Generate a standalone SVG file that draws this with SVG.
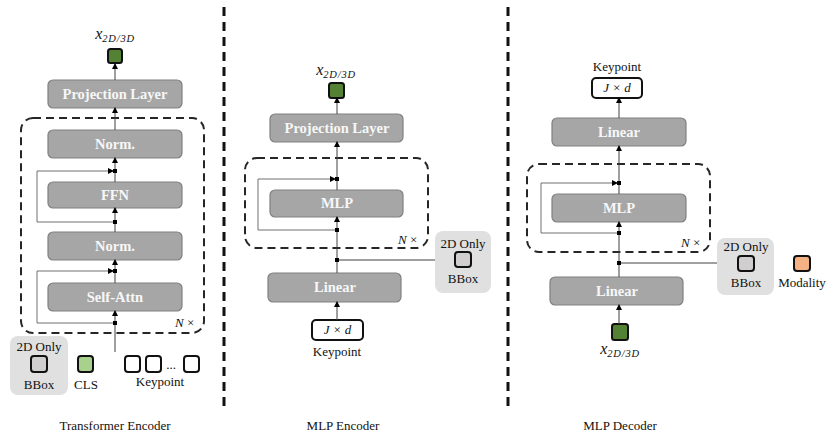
<svg xmlns="http://www.w3.org/2000/svg" width="831" height="440" viewBox="0 0 831 440">
<defs>
<marker id="ah" markerUnits="userSpaceOnUse" markerWidth="6" markerHeight="6" refX="5" refY="3" orient="auto">
<path d="M0,0 L6,3 L0,6 Z" fill="#000"/>
</marker>
<style>
.blk{fill:#a6a6a6;stroke:#808080;stroke-width:1.2}
.bt{font-family:"Liberation Serif",serif;font-weight:bold;font-size:14.5px;fill:#f7f7f7;text-anchor:middle}
.lb{font-family:"Liberation Serif",serif;font-size:13px;fill:#111;text-anchor:middle}
.cap{font-family:"Liberation Serif",serif;font-size:13px;fill:#111;text-anchor:middle}
.mx{font-family:"Liberation Serif",serif;font-style:italic;font-size:16px;fill:#111;text-anchor:middle}
.dash{fill:none;stroke:#262626;stroke-width:2;stroke-dasharray:8 5}
.div{stroke:#111;stroke-width:3;stroke-dasharray:9 6}
.ln{fill:none;stroke:#404040;stroke-width:1}
.sk{fill:none;stroke:#707070;stroke-width:1}
.jn{fill:#000}
.tok{stroke:#111;stroke-width:2}
.gbox{fill:#e0e0e0}
.nx{font-family:"Liberation Serif",serif;font-size:13px;fill:#111}
</style>
</defs>

<!-- dividers -->
<g id="dividers">
<line class="div" x1="224" y1="7" x2="224" y2="408"/>
<line class="div" x1="508" y1="7" x2="508" y2="408"/>
</g>

<!-- ================= Transformer Encoder ================= -->
<g id="te-out">
<text class="mx" x="115" y="39">x<tspan font-size="10.5" dy="3" letter-spacing="0.8">2D/3D</tspan></text>
<rect class="tok" x="108" y="49" width="14" height="14" rx="2.5" fill="#548235"/>
</g>
<g id="te-dashed"><rect class="dash" x="21" y="118" width="183" height="215" rx="12"/>
<text class="nx" x="175" y="327"><tspan font-style="italic">N</tspan> ×</text></g>
<g id="te-proj"><rect class="blk" x="48" y="80" width="134" height="28" rx="5"/><text class="bt" x="115" y="99">Projection Layer</text></g>
<g id="te-norm1"><rect class="blk" x="48" y="130" width="134" height="28" rx="5"/><text class="bt" x="115" y="149">Norm.</text></g>
<g id="te-ffn"><rect class="blk" x="48" y="182" width="134" height="26" rx="5"/><text class="bt" x="115" y="200">FFN</text></g>
<g id="te-norm2"><rect class="blk" x="48" y="232" width="134" height="28" rx="5"/><text class="bt" x="115" y="251">Norm.</text></g>
<g id="te-attn"><rect class="blk" x="48" y="283" width="134" height="28" rx="5"/><text class="bt" x="115" y="302">Self-Attn</text></g>
<g id="te-inputs">
<rect class="gbox" x="10" y="336" width="58" height="59" rx="8"/>
<text class="lb" x="39" y="351">2D Only</text>
<rect class="tok" x="31" y="356" width="16" height="16" rx="3" fill="#d0cece"/>
<text class="lb" x="39" y="389">BBox</text>
<rect class="tok" x="78" y="356" width="15" height="16" rx="3" fill="#a9d18e"/>
<text class="lb" x="86" y="389">CLS</text>
<rect class="tok" x="125" y="356" width="15" height="16" rx="3" fill="#fff"/>
<rect class="tok" x="146" y="356" width="15" height="16" rx="3" fill="#fff"/>
<text class="lb" x="171" y="369" font-size="9">...</text>
<rect class="tok" x="184" y="356" width="15" height="16" rx="3" fill="#fff"/>
<text class="lb" x="160" y="386">Keypoint</text>
</g>

<!-- ================= MLP Encoder ================= -->
<g id="me-out">
<text class="mx" x="336" y="75">x<tspan font-size="10.5" dy="3" letter-spacing="0.8">2D/3D</tspan></text>
<rect class="tok" x="329" y="83" width="15" height="15" rx="2.5" fill="#548235"/>
</g>
<g id="me-proj"><rect class="blk" x="270" y="114" width="133" height="28" rx="5"/><text class="bt" x="337" y="133">Projection Layer</text></g>
<g id="me-dashed"><rect class="dash" x="245" y="158" width="183" height="90" rx="12"/>
<text class="nx" x="398" y="244"><tspan font-style="italic">N</tspan> ×</text></g>
<g id="me-mlp"><rect class="blk" x="270" y="190" width="133" height="27" rx="5"/><text class="bt" x="337" y="208">MLP</text></g>
<g id="me-linear"><rect class="blk" x="268" y="273" width="133" height="29" rx="5"/><text class="bt" x="335" y="292">Linear</text></g>
<g id="me-bbox">
<rect class="gbox" x="435" y="231" width="56" height="62" rx="8"/>
<text class="lb" x="463" y="248">2D Only</text>
<rect class="tok" x="455" y="252" width="16" height="15" rx="3" fill="#d0cece"/>
<text class="lb" x="463" y="283">BBox</text>
</g>
<g id="me-kp">
<rect class="tok" x="312" y="320" width="51" height="20" rx="4" fill="#fff"/>
<text class="lb" x="337.5" y="334" font-size="10" font-style="italic">J × d</text>
<text class="lb" x="337" y="356">Keypoint</text>
</g>

<!-- ================= MLP Decoder ================= -->
<g id="md-kp">
<text class="lb" x="617" y="71">Keypoint</text>
<rect class="tok" x="592" y="78" width="50" height="20" rx="4" fill="#fff"/>
<text class="lb" x="617" y="92" font-size="10" font-style="italic">J × d</text>
</g>
<g id="md-linear1"><rect class="blk" x="552" y="118" width="134" height="28" rx="5"/><text class="bt" x="619" y="137">Linear</text></g>
<g id="md-dashed"><rect class="dash" x="527" y="164" width="183" height="88" rx="12"/>
<text class="nx" x="681" y="247"><tspan font-style="italic">N</tspan> ×</text></g>
<g id="md-mlp"><rect class="blk" x="552" y="194" width="134" height="28" rx="5"/><text class="bt" x="619" y="213">MLP</text></g>
<g id="md-linear2"><rect class="blk" x="550" y="277" width="133" height="28" rx="5"/><text class="bt" x="617" y="296">Linear</text></g>
<g id="md-bbox">
<rect class="gbox" x="717" y="238" width="57" height="57" rx="8"/>
<text class="lb" x="746" y="251">2D Only</text>
<rect class="tok" x="738" y="256" width="16" height="15" rx="3" fill="#d0cece"/>
<text class="lb" x="746" y="287">BBox</text>
</g>
<g id="md-modality">
<rect class="tok" x="794" y="256" width="16" height="15" rx="3" fill="#f4b183"/>
<text class="lb" x="802" y="287">Modality</text>
</g>
<g id="md-in">
<rect class="tok" x="612" y="324" width="16" height="16" rx="2.5" fill="#548235"/>
<text class="mx" x="620" y="354">x<tspan font-size="10.5" dy="3" letter-spacing="0.8">2D/3D</tspan></text>
</g>

<!-- captions -->
<g id="captions">
<text class="cap" x="115" y="430">Transformer Encoder</text>
<text class="cap" x="343" y="430">MLP Encoder</text>
<text class="cap" x="620" y="430">MLP Decoder</text>
</g>

<!-- connectors -->
<g id="connectors">
<!-- TE -->
<line class="ln" x1="115" y1="80" x2="115" y2="64" marker-end="url(#ah)"/>
<line class="ln" x1="115" y1="130" x2="115" y2="108" marker-end="url(#ah)"/>
<line class="ln" x1="115" y1="182" x2="115" y2="158" marker-end="url(#ah)"/>
<line class="ln" x1="115" y1="232" x2="115" y2="208" marker-end="url(#ah)"/>
<line class="ln" x1="115" y1="283" x2="115" y2="260" marker-end="url(#ah)"/>
<line class="ln" x1="115" y1="352" x2="115" y2="311" marker-end="url(#ah)"/>
<path class="sk" d="M115,222 H37 V171 H113" marker-end="url(#ah)"/>
<path class="sk" d="M115,323 H37 V271 H113" marker-end="url(#ah)"/>
<rect class="jn" x="113" y="169" width="4" height="4"/>
<rect class="jn" x="113" y="220" width="4" height="4"/>
<rect class="jn" x="113" y="269" width="4" height="4"/>
<rect class="jn" x="113" y="321" width="4" height="4"/>
<!-- ME -->
<line class="ln" x1="337" y1="114" x2="337" y2="98" marker-end="url(#ah)"/>
<line class="ln" x1="337" y1="190" x2="337" y2="142" marker-end="url(#ah)"/>
<line class="ln" x1="337" y1="273" x2="337" y2="217" marker-end="url(#ah)"/>
<path class="sk" d="M337,230 H258 V179 H335" marker-end="url(#ah)"/>
<line class="ln" x1="337" y1="260" x2="435" y2="260"/>
<line class="ln" x1="337" y1="320" x2="337" y2="302" marker-end="url(#ah)"/>
<rect class="jn" x="335" y="177" width="4" height="4"/>
<rect class="jn" x="335" y="228" width="4" height="4"/>
<rect class="jn" x="335" y="258" width="4" height="4"/>
<!-- MD -->
<line class="ln" x1="619" y1="118" x2="619" y2="98" marker-end="url(#ah)"/>
<line class="ln" x1="619" y1="194" x2="619" y2="146" marker-end="url(#ah)"/>
<line class="ln" x1="619" y1="277" x2="619" y2="222" marker-end="url(#ah)"/>
<path class="sk" d="M619,233 H541 V183 H617" marker-end="url(#ah)"/>
<line class="ln" x1="619" y1="263" x2="717" y2="263"/>
<line class="ln" x1="619" y1="324" x2="619" y2="305" marker-end="url(#ah)"/>
<rect class="jn" x="617" y="181" width="4" height="4"/>
<rect class="jn" x="617" y="231" width="4" height="4"/>
<rect class="jn" x="617" y="261" width="4" height="4"/>
</g>
</svg>
